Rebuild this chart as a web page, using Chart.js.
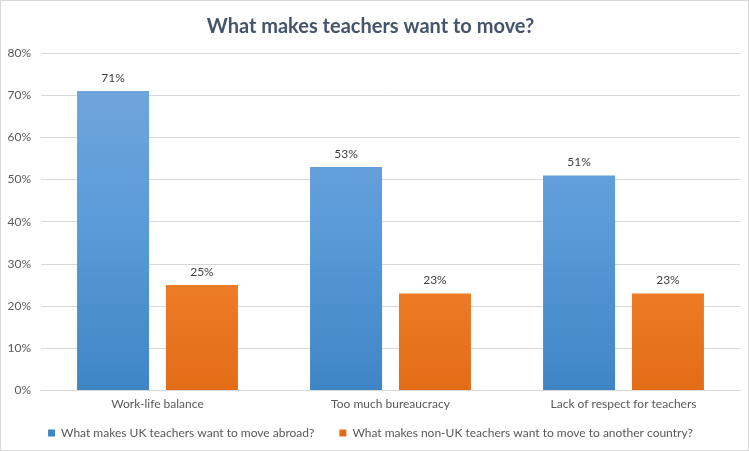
<!DOCTYPE html>
<html>
<head>
<meta charset="utf-8">
<script src="https://cdn.jsdelivr.net/npm/chart.js@4/dist/chart.umd.min.js"></script>
<style>
  html, body { margin: 0; padding: 0; background: #fff; }
  #wrap { width: 747px; height: 449px; border: 1px solid #d9d9d9; position: relative; }
</style>
</head>
<body>
<div id="wrap"><canvas id="chart"></canvas></div>
<script>
// data
const categories = ['Work-life balance', 'Too much bureaucracy', 'Lack of respect for teachers'];
const ukValues = [71, 53, 51];
const nonUkValues = [25, 23, 23];
const seriesNames = [
    'What makes UK teachers want to move abroad?',
    'What makes non-UK teachers want to move to another country?'
];
const yTicks = [0, 10, 20, 30, 40, 50, 60, 70, 80];

const FONT = "Lato, 'Open Sans', sans-serif";

// vertical gradient per bar series, based on the chart area
function makeGradient(stops) {
    return (ctx) => {
        const { chart } = ctx;
        const area = chart.chartArea;
        if (!area) return stops[stops.length - 1];
        const g = chart.ctx.createLinearGradient(0, area.top, 0, area.bottom);
        stops.forEach((c, i) => g.addColorStop(i / (stops.length - 1), c));
        return g;
    };
}

// value labels above the bars
const valueLabels = {
    id: 'valueLabels',
    afterDatasetsDraw(chart) {
        const ctx = chart.ctx;
        ctx.save();
        ctx.font = '12px ' + FONT;
        ctx.fillStyle = '#404040';
        ctx.textAlign = 'center';
        ctx.textBaseline = 'bottom';
        chart.data.datasets.forEach((ds, i) => {
            chart.getDatasetMeta(i).data.forEach((bar, j) => {
                ctx.fillText(ds.data[j] + '%', bar.x, bar.y - 7);
            });
        });
        ctx.restore();
    }
};

new Chart(document.getElementById('chart'), {
    type: 'bar',
    data: {
        labels: categories,
        datasets: [{
            label: seriesNames[0],
            data: ukValues,
            backgroundColor: makeGradient(['#75a7dd', '#5b9bd9', '#3f85c6']),
            borderWidth: 0
        }, {
            label: seriesNames[1],
            data: nonUkValues,
            backgroundColor: makeGradient(['#f3a06a', '#f5842f', '#e36c17']),
            borderWidth: 0
        }]
    },
    options: {
        responsive: true,
        maintainAspectRatio: false,
        animation: false,
        categoryPercentage: 0.763,
        barPercentage: 0.81,
        layout: { padding: { left: 0, right: 8, top: 0, bottom: 1 } },
        plugins: {
            title: {
                display: true,
                text: 'What makes teachers want to move?',
                color: '#44546a',
                font: { family: FONT, size: 20, weight: 'bold' },
                padding: { top: 14, bottom: 14 }
            },
            legend: {
                position: 'bottom',
                labels: {
                    color: '#595959',
                    font: { family: FONT, size: 12 },
                    boxWidth: 7,
                    boxHeight: 7,
                    padding: 10,
                    // a wider gap between the two items, as in the original
                    generateLabels: (chart) => {
                        const items = Chart.defaults.plugins.legend.labels.generateLabels(chart);
                        items.forEach((it, i) => {
                            if (i < items.length - 1) it.text += '\u2003\u2002';
                        });
                        return items;
                    }
                }
            },
            tooltip: { enabled: false }
        },
        scales: {
            x: {
                grid: { display: false, drawTicks: false, tickLength: 0 },
                border: { color: '#d9d9d9' },
                ticks: { color: '#595959', font: { family: FONT, size: 12 }, padding: 6 }
            },
            y: {
                min: 0,
                max: 80,
                afterFit: (scale) => { scale.width = 40; },
                afterBuildTicks: (scale) => { scale.ticks = yTicks.map(v => ({ value: v })); },
                grid: { color: '#d9d9d9', drawTicks: false },
                border: { display: false },
                ticks: {
                    color: '#595959',
                    font: { family: FONT, size: 12 },
                    padding: 10,
                    callback: (v) => v + '%'
                }
            }
        }
    },
    plugins: [valueLabels]
});
</script>
</body>
</html>
